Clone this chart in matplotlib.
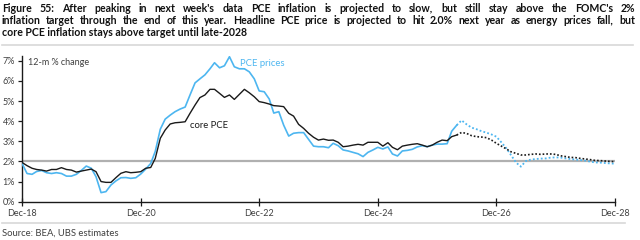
import matplotlib
matplotlib.use("Agg")
import matplotlib.pyplot as plt
import pandas as pd

# monthly, Dec-18 .. Dec-28
dates = pd.date_range("2018-12-01", "2028-12-01", freq="MS")

pce_actual = [
    1.90, 1.40, 1.36, 1.50, 1.55, 1.44, 1.40, 1.44, 1.40, 1.27, 1.27, 1.36,
    1.55, 1.77, 1.66, 1.24, 0.45, 0.50, 0.83, 1.03, 1.19, 1.20, 1.16, 1.19,
    1.37, 1.62, 1.90, 2.50, 3.60, 4.10, 4.30, 4.47, 4.60, 4.70, 5.30, 5.90,
    6.10, 6.30, 6.60, 6.90, 6.65, 6.75, 7.20, 6.70, 6.60, 6.60, 6.45, 6.10,
    5.50, 5.46, 5.10, 4.40, 4.47, 3.80, 3.26, 3.40, 3.43, 3.43, 3.10, 2.76,
    2.73, 2.73, 2.68, 2.90, 2.78, 2.57, 2.52, 2.45, 2.38, 2.24, 2.45, 2.57,
    2.70, 2.62, 2.72, 2.37, 2.27, 2.52, 2.55, 2.60, 2.72, 2.78, 2.73, 2.81,
    2.86, 2.86, 2.88, 3.50, 3.80,
]
pce_forecast = [
    3.80, 4.04, 3.84, 3.68, 3.60, 3.50, 3.43, 3.34, 3.23, 2.95, 2.65, 2.32,
    1.95, 1.74, 2.02, 2.09, 2.12, 2.14, 2.15, 2.19, 2.20, 2.19, 2.15, 2.12,
    2.09, 2.07, 2.04, 1.99, 1.95, 1.94, 1.92, 1.90, 1.89,
]

core_actual = [
    1.95, 1.79, 1.66, 1.60, 1.57, 1.52, 1.60, 1.60, 1.69, 1.60, 1.57, 1.47,
    1.52, 1.57, 1.62, 1.49, 1.00, 0.96, 0.96, 1.19, 1.41, 1.49, 1.44, 1.46,
    1.49, 1.66, 1.70, 2.15, 3.15, 3.56, 3.86, 3.92, 3.94, 3.97, 4.39, 4.80,
    5.17, 5.30, 5.58, 5.58, 5.38, 5.18, 5.30, 5.08, 5.33, 5.58, 5.41, 5.21,
    4.97, 4.92, 4.85, 4.77, 4.75, 4.72, 4.39, 4.25, 3.84, 3.64, 3.40, 3.20,
    3.06, 3.11, 3.05, 3.06, 2.95, 2.73, 2.76, 2.81, 2.85, 2.81, 2.95, 2.95,
    2.95, 2.76, 2.93, 2.70, 2.58, 2.76, 2.81, 2.85, 2.88, 2.81, 2.73, 2.81,
    2.95, 3.06, 3.03, 3.23, 3.31,
]
core_forecast = [
    3.31, 3.44, 3.39, 3.28, 3.23, 3.21, 3.18, 3.06, 2.90, 2.76, 2.62, 2.48,
    2.40, 2.32, 2.32, 2.35, 2.37, 2.35, 2.37, 2.37, 2.35, 2.28, 2.24, 2.20,
    2.19, 2.15, 2.12, 2.09, 2.05, 2.04, 2.02, 2.00, 1.99,
]

target = 2.0
tick_dates = pd.date_range("2018-12-01", "2028-12-01", freq="24MS")
tick_labels = ["Dec-18", "Dec-20", "Dec-22", "Dec-24", "Dec-26", "Dec-28"]

title_lines = [
    "Figure 55: After peaking in next week's data PCE inflation is projected to slow, but still stay above the FOMC's 2%",
    "inflation target through the end of this year. Headline PCE price is projected to hit 2.0% next year as energy prices fall, but",
    "core PCE inflation stays above target until late-2028",
]

BLUE = "#4db6f0"
BLACK = "#1a1a1a"
GREY = "#404040"

plt.rcParams["font.family"] = ["Lato", "DejaVu Sans"]


def justified_line(fig, words, x0, x1, y, **kw):
    """Place words so the line fills x0..x1 (figure pixels)."""
    renderer = fig.canvas.get_renderer()
    texts, widths = [], []
    for w in words:
        t = fig.text(0, 1 - y / 240, w, va="center", ha="left", **kw)
        texts.append(t)
        widths.append(t.get_window_extent(renderer).width)
    gap = (x1 - x0 - sum(widths)) / (len(words) - 1)
    x = x0
    for t, w in zip(texts, widths):
        t.set_x(x / 640)
        x += w + gap


fig = plt.figure(figsize=(6.4, 2.4), dpi=100)
ax = fig.add_axes([22 / 640, 1 - 201.7 / 240, (615 - 22) / 640, (201.7 - 55.7) / 240])

n_act = len(pce_actual)
act_dates = dates[:n_act]
fc_dates = dates[n_act - 1:]

ax.axhline(target, color="#b0b0b0", lw=1.6, zorder=1)
ax.plot(act_dates, pce_actual, color=BLUE, lw=1.2, zorder=3)
ax.plot(fc_dates, pce_forecast, color=BLUE, lw=1.3, ls=(0, (1, 1.2)), zorder=3)
ax.plot(act_dates, core_actual, color=BLACK, lw=1.0, zorder=4)
ax.plot(fc_dates, core_forecast, color=BLACK, lw=1.2, ls=(0, (1, 1.2)), zorder=4)

ax.set_xlim(dates[0], dates[-1])
ax.set_ylim(0, 7.25)
ax.set_yticks(range(0, 8))
ax.set_yticklabels([f"{v}%" for v in range(0, 8)])
ax.set_xticks(tick_dates)
ax.set_xticklabels(tick_labels)

for side in ["top", "right"]:
    ax.spines[side].set_visible(False)
for side in ["left", "bottom"]:
    ax.spines[side].set_color(BLACK)
    ax.spines[side].set_linewidth(1.0)

ax.tick_params(axis="y", direction="out", length=3, width=0.9, colors=BLACK,
               labelsize=6.5, labelcolor=GREY, pad=2)
ax.tick_params(axis="x", direction="inout", length=6, width=0.9, colors=BLACK,
               labelsize=6.5, labelcolor=GREY, pad=2)
ax.patch.set_alpha(0)

ax.text(0.01, 0.985, "12-m % change", transform=ax.transAxes, fontsize=6.5,
        color=GREY, va="top", ha="left")
ax.annotate("PCE prices", xy=(240, 240 - 63), xycoords="figure pixels",
            fontsize=6.8, color=BLUE, va="center", ha="left")
ax.annotate("core PCE", xy=(190, 240 - 125), xycoords="figure pixels",
            fontsize=6.8, color=BLACK, va="center", ha="left")

title_kw = dict(fontsize=7.6, fontweight="bold", color="#111111")
for i, line in enumerate(title_lines[:2]):
    justified_line(fig, line.split(" "), 2, 635, 8 + 12 * i, **title_kw)
fig.text(2 / 640, 1 - 32 / 240, title_lines[2], va="center", ha="left", **title_kw)

fig.add_artist(plt.Line2D([2 / 640, 633 / 640], [1 - 45 / 240] * 2, color="#d8d8d8", lw=1.2))
fig.add_artist(plt.Line2D([2 / 640, 625 / 640], [1 - 223 / 240] * 2, color="#d8d8d8", lw=1.2))
fig.text(2 / 640, 1 - 233 / 240, "Source: BEA, UBS estimates", fontsize=6.8,
         color=GREY, va="center", ha="left")

fig.savefig("out.png", dpi=100)
